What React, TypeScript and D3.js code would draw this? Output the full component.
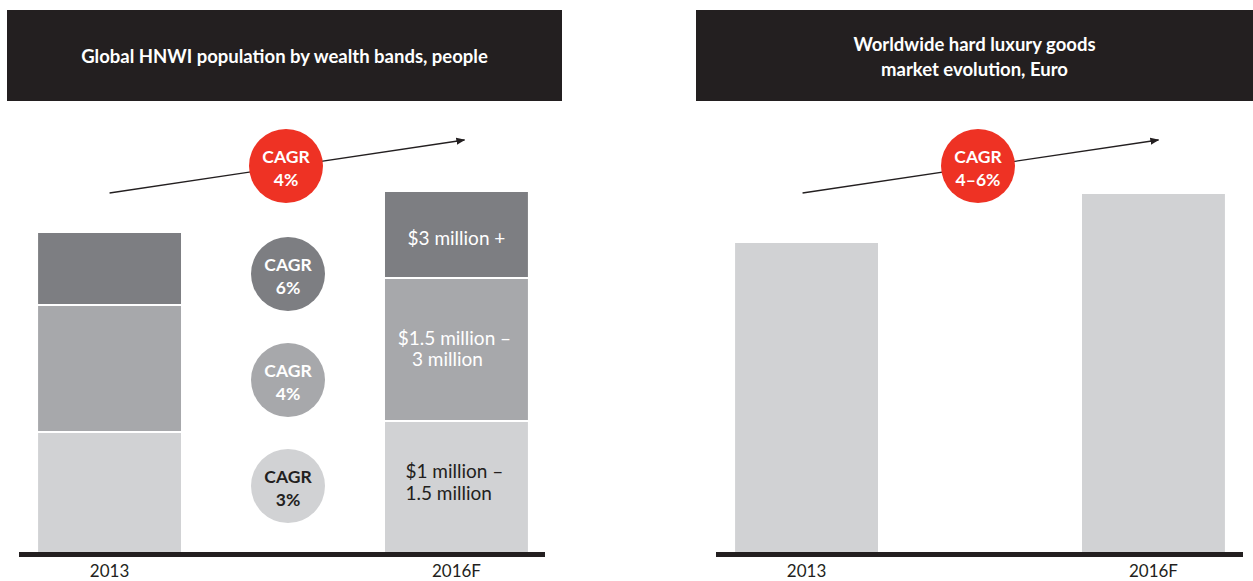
import React from "react";
import * as d3 from "d3";

const years = ["2013", "2016F"];
const bands = ["$1 million – 1.5 million", "$1.5 million – 3 million", "$3 million +"];
const hnwi2013 = [120, 127, 73];
const hnwi2016 = [131, 143, 87];
const bandCagr = ["3%", "4%", "6%"];
const totalCagrLeft = "4%";
const hardLuxury = [310, 359];
const totalCagrRight = "4–6%";

const DARK = "#231f20";
const RED = "#ee3224";
const SHADES = ["#d1d2d4", "#a7a8ab", "#7d7e82"];
const FONT = "Lato, 'Open Sans', sans-serif";

const BASE = 553;

function Title({ x, w, lines }: { x: number; w: number; lines: string[] }) {
  const cy = 56;
  const lh = 25;
  const y0 = cy - ((lines.length - 1) * lh) / 2;
  return (
    <g>
      <rect x={x} y={10} width={w} height={91} fill={DARK} />
      {lines.map((l, i) => (
        <text key={i} x={x + w / 2} y={y0 + i * lh} textAnchor="middle" dominantBaseline="central"
          fill="#fff" fontFamily={FONT} fontWeight={700} fontSize={18.5}>{l}</text>
      ))}
    </g>
  );
}

function Badge({ cx, cy, fill, color, lines }: { cx: number; cy: number; fill: string; color: string; lines: string[] }) {
  return (
    <g>
      <circle cx={cx} cy={cy} r={37} fill={fill} />
      <text x={cx} y={cy - 10} textAnchor="middle" dominantBaseline="central" fill={color}
        fontFamily={FONT} fontWeight={700} fontSize={17.5}>{lines[0]}</text>
      <text x={cx} y={cy + 13} textAnchor="middle" dominantBaseline="central" fill={color}
        fontFamily={FONT} fontWeight={700} fontSize={17.5}>{lines[1]}</text>
    </g>
  );
}

function Arrow({ x1, y1, x2, y2 }: { x1: number; y1: number; x2: number; y2: number }) {
  return (
    <line x1={x1} y1={y1} x2={x2} y2={y2} stroke={DARK} strokeWidth={1.3} markerEnd="url(#arrowhead)" />
  );
}

export default function App() {
  const yMax = d3.sum(hnwi2016);
  const y = d3.scaleLinear().domain([0, yMax]).range([BASE, BASE - yMax]);

  const xL = d3.scaleBand<string>().domain(years).range([19, 547]).paddingInner(0.588).paddingOuter(0.055);
  const xR = d3.scaleBand<string>().domain(years).range([716, 1244]).paddingInner(0.588).paddingOuter(0.055);

  const stackData = [hnwi2013, hnwi2016].map((vals, i) => {
    const o: any = { year: years[i] };
    bands.forEach((b, j) => (o[b] = vals[j]));
    return o;
  });
  const series = d3.stack<any>().keys(bands)(stackData);

  const bw = xL.bandwidth();
  const c2016 = (xL("2016F") as number) + bw / 2;
  const c2013 = (xL("2013") as number) + bw / 2;
  const midL = ((xL("2013") as number) + bw + (xL("2016F") as number)) / 2 + 3;
  const rc2013 = (xR("2013") as number) + xR.bandwidth() / 2;
  const rc2016 = (xR("2016F") as number) + xR.bandwidth() / 2;
  const midR = ((xR("2013") as number) + xR.bandwidth() + (xR("2016F") as number)) / 2 - 2;

  const s2016 = series.map((s) => s[1]);
  const segMid = (j: number) => (y(s2016[j][0]) + y(s2016[j][1])) / 2;

  const labelStyle = { fontFamily: FONT, fontSize: 19 } as const;

  return (
    <svg width={1253} height={581} style={{ position: "absolute", left: 0, top: 0 }}>
      <defs>
        <marker id="arrowhead" viewBox="0 0 10 10" refX={9} refY={5} markerWidth={9} markerHeight={9}
          markerUnits="userSpaceOnUse" orient="auto">
          <path d="M0,1 L10,5 L0,9 Z" fill={DARK} />
        </marker>
      </defs>
      <rect width={1253} height={581} fill="#fff" />

      {/* Left panel */}
      <Title x={7} w={555} lines={["Global HNWI population by wealth bands, people"]} />
      {series.map((s, j) => (
        <g key={j}>
          {s.map((d, i) => (
            <rect key={i} x={xL(years[i])} width={bw} y={y(d[1])}
              height={y(d[0]) - y(d[1]) - (j > 0 ? 2 : 0)}
              fill={SHADES[j]} />
          ))}
        </g>
      ))}
      <text x={c2016} y={segMid(2) + 2} textAnchor="middle" dominantBaseline="central" fill="#fff" {...labelStyle}>$3 million +</text>
      <text x={c2016 - 2} y={segMid(1) - 13} textAnchor="middle" dominantBaseline="central" fill="#fff" {...labelStyle}>$1.5 million –</text>
      <text x={c2016 - 9} y={segMid(1) + 8} textAnchor="middle" dominantBaseline="central" fill="#fff" {...labelStyle}>3 million</text>
      <text x={c2016 - 51} y={segMid(0) - 17} textAnchor="start" dominantBaseline="central" fill={DARK} {...labelStyle}>$1 million –</text>
      <text x={c2016 - 51} y={segMid(0) + 5} textAnchor="start" dominantBaseline="central" fill={DARK} {...labelStyle}>1.5 million</text>

      <Arrow x1={c2013} y1={193} x2={c2016 + 8} y2={140} />
      <Badge cx={midL} cy={166} fill={RED} color="#fff" lines={["CAGR", totalCagrLeft]} />
      <Badge cx={midL + 2} cy={274} fill={SHADES[2]} color="#fff" lines={["CAGR", bandCagr[2]]} />
      <Badge cx={midL + 2} cy={380} fill={SHADES[1]} color="#fff" lines={["CAGR", bandCagr[1]]} />
      <Badge cx={midL + 2} cy={486} fill={SHADES[0]} color={DARK} lines={["CAGR", bandCagr[0]]} />

      <rect x={19} y={BASE - 1} width={526} height={5} fill={DARK} />
      {years.map((yr) => (
        <text key={yr} x={(xL(yr) as number) + bw / 2} y={570} textAnchor="middle" dominantBaseline="central"
          fill={DARK} fontFamily={FONT} fontSize={17}>{yr}</text>
      ))}

      {/* Right panel */}
      <Title x={696} w={557} lines={["Worldwide hard luxury goods", "market evolution, Euro"]} />
      {hardLuxury.map((v, i) => (
        <rect key={i} x={xR(years[i])} width={xR.bandwidth()} y={y(v)} height={y(0) - y(v)} fill={SHADES[0]} />
      ))}
      <Arrow x1={rc2013 - 4} y1={193} x2={rc2016 + 5} y2={140} />
      <Badge cx={midR} cy={166} fill={RED} color="#fff" lines={["CAGR", totalCagrRight]} />
      <rect x={716} y={BASE - 1} width={527} height={5} fill={DARK} />
      {years.map((yr) => (
        <text key={yr} x={(xR(yr) as number) + xR.bandwidth() / 2} y={570} textAnchor="middle" dominantBaseline="central"
          fill={DARK} fontFamily={FONT} fontSize={17}>{yr}</text>
      ))}
    </svg>
  );
}
